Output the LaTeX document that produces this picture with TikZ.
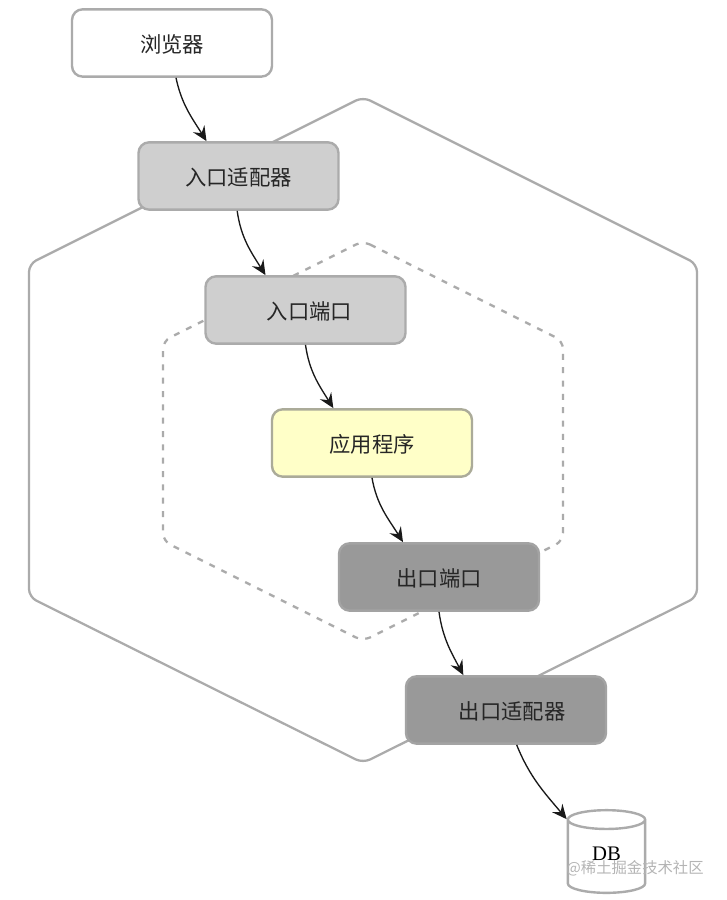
\documentclass[tikz,border=0pt]{standalone}
\usepackage{fontspec}
\setmainfont{Noto Sans CJK SC}
\newfontfamily\dbfont{Liberation Serif}
\usetikzlibrary{arrows.meta,shapes.geometric}
\definecolor{edgegray}{HTML}{ABABAB}
\definecolor{lightfill}{HTML}{CFCFCF}
\definecolor{darkfill}{HTML}{999999}
\definecolor{appfill}{HTML}{FFFFC8}
\definecolor{appedge}{HTML}{ABAB99}
\definecolor{markgray}{HTML}{B4B4B4}
\begin{document}
\begin{tikzpicture}[x=.75pt,y=.75pt,
		box/.style={draw=edgegray, line width=1.8pt, rounded corners=8pt, minimum width=150pt, minimum height=50.5pt, text height=16pt, text depth=2pt, font=\fontsize{16}{18}\selectfont, text=black!85},
		flow/.style={black!90, line width=1pt, -{Stealth[length=11pt,width=10pt,inset=4pt]}},
		hexline/.style={edgegray, line width=1.7pt, rounded corners=6pt}]
	\useasboundingbox (0,0) rectangle (726,900);
			\draw[hexline] (363,803) -- (697,636) -- (697,303) -- (363,137) -- (29,303) -- (29,636) -- cycle;
			\draw[hexline, dash pattern=on 4.5pt off 5.5pt] (363,659) -- (563,559) -- (563,359) -- (363,259) -- (163,359) -- (163,559) -- cycle;
		\node[box, fill=white] (browser) at (172,857) {浏览器};
		\node[box, fill=lightfill] (inadapter) at (238.5,724) {入口适配器};
		\node[box, fill=lightfill] (inport) at (305.5,590) {\hspace*{6pt}入口端口};
		\node[box, fill=appfill, draw=appedge] (app) at (372,457) {应用程序};
		\node[box, fill=darkfill, draw=darkfill!90!white] (outport) at (439,323) {出口端口};
		\node[box, fill=darkfill, draw=darkfill!90!white] (outadapter) at (506,190) {\hspace*{9pt}出口适配器};
		\node[draw=edgegray, line width=1.8pt, cylinder, shape border rotate=90, aspect=.5, minimum height=62pt, minimum width=58pt, text depth=8pt, font=\dbfont\fontsize{15.5}{18}\selectfont] (db) at (606.5,41) {DB};
			\draw[flow] ([xshift=3pt]browser.south) to[out=-78,in=122] ([xshift=-24pt]inadapter.north);
			\draw[flow] ([xshift=-1pt]inadapter.south) to[out=-82,in=122] ([xshift=-30pt]inport.north);
			\draw[flow] (inport.south) to[out=-82,in=122] ([xshift=-29pt]app.north);
			\draw[flow] (app.south) to[out=-80,in=122] ([xshift=-27pt]outport.north);
			\draw[flow] (outport.south) to[out=-82,in=118] ([xshift=-32pt]outadapter.north);
			\draw[flow] ([xshift=8pt]outadapter.south) to[out=-68,in=130] (db.north west);
		\node[font=\fontsize{11.5}{14}\selectfont, text=markgray, inner sep=0pt] (mark) at (635,32) {@稀土掘金技术社区};
\end{tikzpicture}
\end{document}
